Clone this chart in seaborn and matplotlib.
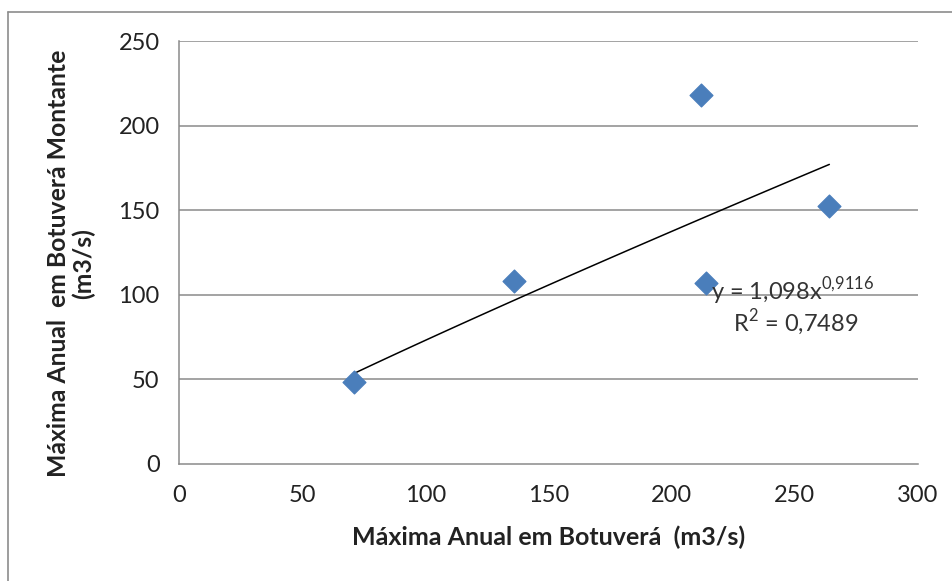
import matplotlib
matplotlib.use('Agg')
import matplotlib.pyplot as plt
import seaborn as sns
import numpy as np
import pandas as pd

# data
x_vals = [71, 136, 212, 214, 264]
y_vals = [48.5, 108, 218, 107, 152.5]
coef_a = 1.098
coef_b = 0.9116
eq_text = 'y = 1,098x$^{0{,}9116}$'
r2_text = 'R$^{2}$ = 0,7489'
x_label = 'Máxima Anual em Botuverá  (m3/s)'
y_label = 'Máxima Anual  em Botuverá Montante\n(m3/s)'

df = pd.DataFrame({'x': x_vals, 'y': y_vals})

sns.set_style('white')
plt.rcParams['font.family'] = ['Lato', 'DejaVu Sans']
plt.rcParams['mathtext.fontset'] = 'custom'
plt.rcParams['mathtext.rm'] = 'Lato'

fig = plt.figure(figsize=(9.53, 5.81), dpi=100)
ax = fig.add_axes([0.1878, 0.2014, 0.7755, 0.728])

# outer chart border (only left/top visible in the reference)
fig.add_artist(plt.Line2D([0.0084, 0.0084], [0.0, 0.9793], color='#8c8c8c', lw=1.2))
fig.add_artist(plt.Line2D([0.0084, 1.0], [0.9793, 0.9793], color='#8c8c8c', lw=1.2))

for yv in [50, 100, 150, 200, 250]:
    ax.axhline(yv, color='#8a8a8a', lw=1.1, zorder=0)

# power trendline
xs = np.linspace(min(x_vals), max(x_vals), 100)
ax.plot(xs, coef_a * xs ** coef_b, color='black', lw=1.1, zorder=2)

sns.scatterplot(data=df, x='x', y='y', marker='D', s=135, color='#4a7ebb',
                edgecolor='#4a7ebb', ax=ax, zorder=3)

ax.set_xlim(0, 300)
ax.set_ylim(0, 250)
ax.set_xticks(range(0, 301, 50))
ax.set_yticks(range(0, 251, 50))
for s in ['top', 'right']:
    ax.spines[s].set_visible(False)
for s in ['left', 'bottom']:
    ax.spines[s].set_color('#8a8a8a')
    ax.spines[s].set_linewidth(1.1)
ax.tick_params(axis='both', which='major', direction='out', length=7, width=1.1,
               color='#8a8a8a', labelsize=17, labelcolor='#222222', pad=7)
ax.tick_params(axis='x', pad=8)

ax.set_xlabel(x_label, fontsize=18, fontweight='bold', color='#222222', labelpad=14)
ax.set_ylabel(y_label, fontsize=17.8, fontweight='bold', color='#222222',
              linespacing=1.05)
ax.yaxis.set_label_coords(-0.114, 0.475)

ax.text(216, 97, eq_text, fontsize=17, color='#333333', ha='left', va='baseline')
ax.text(225, 78, r2_text, fontsize=17, color='#333333', ha='left', va='baseline')

fig.savefig('out.png', dpi=100)
